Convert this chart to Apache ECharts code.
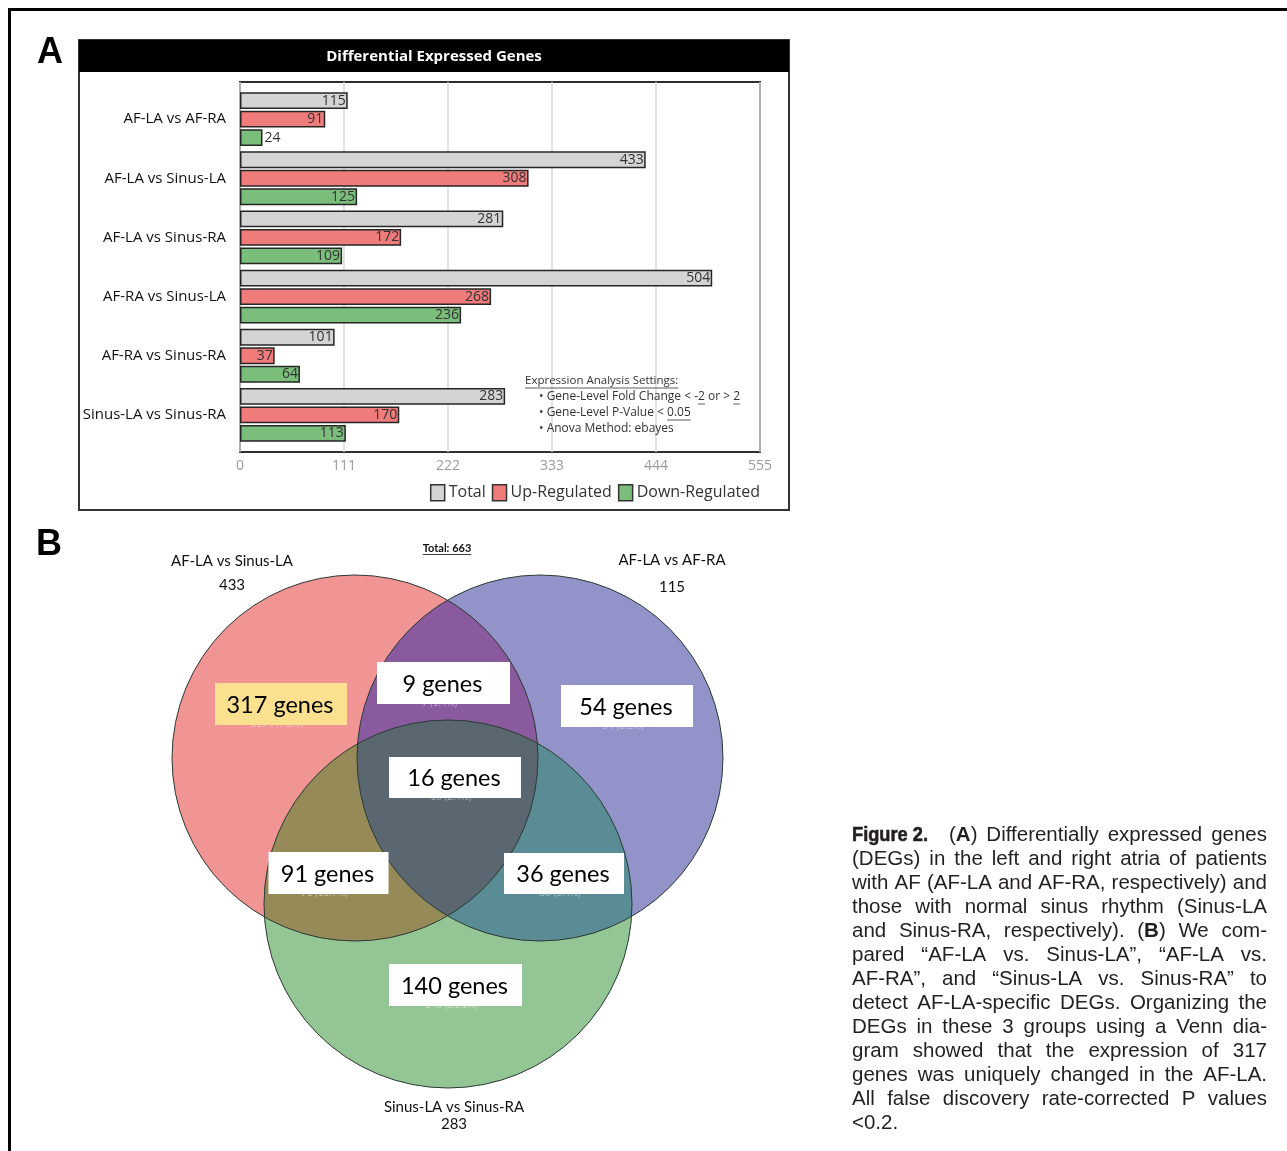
<!DOCTYPE html>
<html>
<head>
<meta charset="utf-8">
<title>Figure 2 – Differential Expressed Genes</title>
<script src="https://cdn.jsdelivr.net/npm/echarts@6/dist/echarts.min.js"></script>
<style>
  html, body { margin: 0; padding: 0; background: #fff; }
  #main { width: 1287px; height: 1151px; }
</style>
</head>
<body>
<div id="main"></div>
<script>
// ---------- Panel A data: DEG counts per comparison ----------
const comparisons = ['AF-LA vs AF-RA', 'AF-LA vs Sinus-LA', 'AF-LA vs Sinus-RA',
                     'AF-RA vs Sinus-LA', 'AF-RA vs Sinus-RA', 'Sinus-LA vs Sinus-RA'];
const totalDEGs     = [115, 433, 281, 504, 101, 283];
const upRegulated   = [91, 308, 172, 268, 37, 170];
const downRegulated = [24, 125, 109, 236, 64, 113];
const axisTicks     = [0, 111, 222, 333, 444, 555];
const seriesNames   = ['Total', 'Up-Regulated', 'Down-Regulated'];

// ---------- Panel B data: Venn diagram of three comparisons ----------
const vennSetNames  = ['AF-LA vs Sinus-LA', 'AF-LA vs AF-RA', 'Sinus-LA vs Sinus-RA'];
const vennSetTotals = [433, 115, 283];
const vennRegions   = ['A', 'B', 'C', 'AB', 'AC', 'BC', 'ABC'];
const vennCounts    = [317, 54, 140, 9, 91, 36, 16];
const vennTotal     = 663;

// ---------- Caption ----------
const captionLines = [
  '##Figure 2.## (**A**) Differentially expressed genes',
  '(DEGs) in the left and right atria of patients',
  'with AF (AF-LA and AF-RA, respectively) and',
  'those with normal sinus rhythm (Sinus-LA',
  'and Sinus-RA, respectively). (**B**) We com-',
  'pared “AF-LA vs. Sinus-LA”, “AF-LA vs.',
  'AF-RA”, and “Sinus-LA vs. Sinus-RA” to',
  'detect AF-LA-specific DEGs. Organizing the',
  'DEGs in these 3 groups using a Venn dia-',
  'gram showed that the expression of 317',
  'genes was uniquely changed in the AF-LA.',
  'All false discovery rate-corrected P values',
  '<0.2.'
];

// ======================================================================
const UI_FONT = "'Open Sans', 'Noto Sans', sans-serif";
const CAL_FONT = "Lato, 'Open Sans', sans-serif";
const HEL_FONT = "'Liberation Sans', Arial, sans-serif";

const mctx = document.createElement('canvas').getContext('2d');
function measure(str, size, family, weight) {
  mctx.font = (weight || 'normal') + ' ' + size + 'px ' + family;
  return mctx.measureText(str).width;
}

const graphics = [];

// outer frame
graphics.push({ type: 'line', silent: true, shape: { x1: 8, y1: 9.5, x2: 1287, y2: 9.5 },
  style: { stroke: '#000', lineWidth: 3 } });
graphics.push({ type: 'line', silent: true, shape: { x1: 9.5, y1: 8, x2: 9.5, y2: 1151 },
  style: { stroke: '#000', lineWidth: 3 } });

// panel letters
graphics.push({ type: 'text', x: 37, y: 53, style: { text: 'A', font: 'bold 36px ' + HEL_FONT,
  fill: '#000', verticalAlign: 'middle' } });
graphics.push({ type: 'text', x: 36, y: 545, style: { text: 'B', font: 'bold 36px ' + HEL_FONT,
  fill: '#000', verticalAlign: 'middle' } });

// panel A frame + title bar
graphics.push({ type: 'rect', silent: true, shape: { x: 79, y: 40, width: 710, height: 470 },
  style: { fill: 'none', stroke: '#333', lineWidth: 2 } });
graphics.push({ type: 'rect', silent: true, shape: { x: 79, y: 40, width: 710, height: 32 },
  style: { fill: '#000' } });
graphics.push({ type: 'text', x: 434, y: 57, style: { text: 'Differential Expressed Genes',
  font: 'bold 15px ' + UI_FONT, fill: '#fff', align: 'center', verticalAlign: 'middle' } });

// analysis settings note inside the plot
(function () {
  const fam = UI_FONT, col = '#333';
  const x0 = 525, xb = 539;
  const head = 'Expression Analysis Settings:';
  graphics.push({ type: 'text', z: 10, x: x0, y: 381, style: { text: head, fontSize: 11.5,
    fontFamily: fam, fill: col, verticalAlign: 'middle' } });
  graphics.push({ type: 'line', z: 10, silent: true,
    shape: { x1: x0, y1: 388, x2: x0 + measure(head, 11.5, fam), y2: 388 },
    style: { stroke: col, lineWidth: 0.8 } });
  const size = 12;
  const bullets = [
    { text: '• Gene-Level Fold Change < -2 or > 2', under: [['• Gene-Level Fold Change < -', '2'], ['• Gene-Level Fold Change < -2 or > ', '2']] },
    { text: '• Gene-Level P-Value < 0.05', under: [['• Gene-Level P-Value < ', '0.05']] },
    { text: '• Anova Method: ebayes', under: [] }
  ];
  bullets.forEach((b, i) => {
    const y = 397 + i * 16;
    graphics.push({ type: 'text', z: 10, x: xb, y: y, style: { text: b.text, fontSize: size,
      fontFamily: fam, fill: col, verticalAlign: 'middle' } });
    b.under.forEach(u => {
      const s = xb + measure(u[0], size, fam);
      const e = s + measure(u[1], size, fam);
      graphics.push({ type: 'line', z: 10, silent: true, shape: { x1: s, y1: y + 7, x2: e, y2: y + 7 },
        style: { stroke: col, lineWidth: 0.8 } });
    });
  });
})();

// ---------- Venn diagram (panel B) ----------
const vennLayout = [
  { x: 355, y: 758, r: 183 },   // A
  { x: 540, y: 758, r: 183 },   // B
  { x: 448, y: 904, r: 184 }    // C
];
const regionColors = { A: '#f09494', B: '#9294c9', C: '#94c594', AB: '#8a5a9e',
                       AC: '#968a58', BC: '#5a8c96', ABC: '#5a6670' };

function inside(c, p) {
  return (p[0] - c.x) * (p[0] - c.x) + (p[1] - c.y) * (p[1] - c.y) < c.r * c.r - 0.5;
}
function intersect(c1, c2) {
  const dx = c2.x - c1.x, dy = c2.y - c1.y, d = Math.hypot(dx, dy);
  const a = (d * d + c1.r * c1.r - c2.r * c2.r) / (2 * d);
  const h = Math.sqrt(Math.max(0, c1.r * c1.r - a * a));
  const px = c1.x + a * dx / d, py = c1.y + a * dy / d;
  return [[px - h * dy / d, py + h * dx / d], [px + h * dy / d, py - h * dx / d]];
}
function arcPoints(c, p1, p2, test) {
  const a1 = Math.atan2(p1[1] - c.y, p1[0] - c.x);
  const a2 = Math.atan2(p2[1] - c.y, p2[0] - c.x);
  let sweep = a2 - a1;
  while (sweep < 0) sweep += Math.PI * 2;
  const mid = a1 + sweep / 2;
  if (!test([c.x + c.r * Math.cos(mid), c.y + c.r * Math.sin(mid)])) sweep -= Math.PI * 2;
  const pts = [], n = 90;
  for (let i = 0; i <= n; i++) {
    const t = a1 + sweep * i / n;
    pts.push([c.x + c.r * Math.cos(t), c.y + c.r * Math.sin(t)]);
  }
  return pts;
}
(function () {
  const [A, B, C] = vennLayout;
  const circ = [A, B, C];
  ['A', 'B', 'C'].forEach((k, i) => {
    graphics.push({ type: 'circle', silent: true, shape: { cx: circ[i].x, cy: circ[i].y, r: circ[i].r },
      style: { fill: regionColors[k] } });
  });
  const pairs = [['AB', A, B, C], ['AC', A, C, B], ['BC', B, C, A]];
  const innerPt = {};
  pairs.forEach(([k, X, Y, Z]) => {
    const [q1, q2] = intersect(X, Y);
    innerPt[k] = inside(Z, q1) ? q1 : q2;
    const pts = arcPoints(X, q1, q2, p => inside(Y, p))
      .concat(arcPoints(Y, q2, q1, p => inside(X, p)));
    graphics.push({ type: 'polygon', silent: true, shape: { points: pts }, style: { fill: regionColors[k] } });
  });
  const tri = arcPoints(C, innerPt.BC, innerPt.AC, p => inside(A, p) && inside(B, p))
    .concat(arcPoints(A, innerPt.AC, innerPt.AB, p => inside(B, p) && inside(C, p)))
    .concat(arcPoints(B, innerPt.AB, innerPt.BC, p => inside(A, p) && inside(C, p)));
  graphics.push({ type: 'polygon', silent: true, shape: { points: tri }, style: { fill: regionColors.ABC } });
  circ.forEach(c => graphics.push({ type: 'circle', silent: true, shape: { cx: c.x, cy: c.y, r: c.r },
    style: { fill: 'none', stroke: '#2b3a33', lineWidth: 1 } }));
})();

// region label boxes
const regionBoxes = {
  A:   { cx: 281,   cy: 704,   w: 132, h: 42, fill: '#fae08f' },
  AB:  { cx: 443.5, cy: 683,   w: 133, h: 42, fill: '#fff' },
  B:   { cx: 627,   cy: 706,   w: 132, h: 42, fill: '#fff' },
  ABC: { cx: 455,   cy: 777.5, w: 132, h: 41, fill: '#fff' },
  AC:  { cx: 328.5, cy: 873,   w: 120, h: 42, fill: '#fff' },
  BC:  { cx: 564,   cy: 873.5, w: 120, h: 41, fill: '#fff' },
  C:   { cx: 455.5, cy: 985,   w: 133, h: 42, fill: '#fff' }
};
vennRegions.forEach((k, i) => {
  const b = regionBoxes[k];
  const pct = (vennCounts[i] / vennTotal * 100).toFixed(1);
  // faint count/percent tag mostly tucked under the box
  graphics.push({ type: 'text', silent: true, x: b.cx - 4, y: b.cy + b.h / 2 - 1,
    style: { text: vennCounts[i] + ' (' + pct + '%)', fontSize: 10, fontFamily: CAL_FONT,
      fill: 'rgba(255,255,255,0.45)', align: 'center', verticalAlign: 'middle' } });
});
vennRegions.forEach((k, i) => {
  const b = regionBoxes[k];
  graphics.push({ type: 'rect', silent: true,
    shape: { x: b.cx - b.w / 2, y: b.cy - b.h / 2, width: b.w, height: b.h }, style: { fill: b.fill } });
  graphics.push({ type: 'text', silent: true, x: b.cx - 1, y: b.cy + 1,
    style: { text: vennCounts[i] + ' genes', fontSize: 23.5, fontFamily: CAL_FONT, fill: '#000',
      align: 'center', verticalAlign: 'middle' } });
});

// set names and totals
const setLabelPos = [
  { x: 232, y1: 561, y2: 585 },
  { x: 672, y1: 560, y2: 587 },
  { x: 454, y1: 1107, y2: 1124 }
];
vennSetNames.forEach((name, i) => {
  const p = setLabelPos[i];
  graphics.push({ type: 'text', x: p.x, y: p.y1, style: { text: name, fontSize: 15, fontFamily: CAL_FONT,
    fill: '#111', align: 'center', verticalAlign: 'middle' } });
  graphics.push({ type: 'text', x: p.x, y: p.y2, style: { text: String(vennSetTotals[i]), fontSize: 15,
    fontFamily: CAL_FONT, fill: '#111', align: 'center', verticalAlign: 'middle' } });
});
(function () {
  const t = 'Total: ' + vennTotal;
  const w = measure(t, 11, CAL_FONT, 'bold');
  graphics.push({ type: 'text', x: 447, y: 548, style: { text: t, fontSize: 11, fontWeight: 'bold',
    fontFamily: CAL_FONT, fill: '#111', align: 'center', verticalAlign: 'middle' } });
  graphics.push({ type: 'line', silent: true, shape: { x1: 447 - w / 2, y1: 554.5, x2: 447 + w / 2, y2: 554.5 },
    style: { stroke: '#111', lineWidth: 0.8 } });
})();

// ---------- justified caption ----------
(function () {
  const X0 = 852, WIDTH = 415, Y0 = 835, LH = 24, SIZE = 20.5, COLOR = '#231f20';
  const FIG_SIZE = 21, FIG_W = 76, FIG_GAP = 21;
  captionLines.forEach((line, li) => {
    let fig = null, rest = line;
    if (rest.startsWith('##')) {
      const end = rest.indexOf('##', 2);
      fig = rest.slice(2, end);
      rest = rest.slice(end + 2).trim();
    }
    const tokens = rest.split(' ').filter(Boolean).map(tok =>
      tok.split('**').map((s, i) => ({ t: s, bold: i % 2 === 1 })).filter(s => s.t.length));
    const segW = s => measure(s.t, SIZE, HEL_FONT, s.bold ? 'bold' : 'normal');
    const tokW = tokens.map(tk => tk.reduce((a, s) => a + segW(s), 0));
    let x = X0;
    let used = tokW.reduce((a, b) => a + b, 0);
    const y = Y0 + li * LH;
    if (fig) {
      // condensed bold figure label
      const natural = measure(fig, FIG_SIZE, HEL_FONT, 'bold');
      graphics.push({ type: 'text', x: x, y: y, scaleX: FIG_W / natural, originX: 0,
        style: { text: fig, fontSize: FIG_SIZE, fontWeight: 'bold', fontFamily: HEL_FONT, fill: COLOR,
          verticalAlign: 'middle', stroke: COLOR, lineWidth: 0.6 } });
      x += FIG_W + FIG_GAP;
      used += FIG_W + FIG_GAP;
    }
    const last = li === captionLines.length - 1;
    const gap = last || tokens.length < 2 ? measure(' ', SIZE, HEL_FONT)
      : (WIDTH - used) / (tokens.length - 1);
    tokens.forEach((tk, ti) => {
      let sx = x;
      tk.forEach(s => {
        graphics.push({ type: 'text', x: sx, y: y, style: { text: s.t, fontSize: SIZE,
          fontWeight: s.bold ? 'bold' : 'normal', fontFamily: HEL_FONT, fill: COLOR, verticalAlign: 'middle' } });
        sx += segW(s);
      });
      x += tokW[ti] + gap;
    });
  });
})();

// ---------- chart ----------
const chart = echarts.init(document.getElementById('main'), null, { renderer: 'canvas' });
const barColors = ['#d4d4d4', '#ef7b7b', '#7bbd7b'];
const barData = [totalDEGs, upRegulated, downRegulated];
const xScale = {
  min: axisTicks[0], max: axisTicks[axisTicks.length - 1], interval: axisTicks[1] - axisTicks[0]
};

const option = {
  animation: false,
  backgroundColor: '#fff',
  textStyle: { fontFamily: UI_FONT },
  grid: [
    // plot frame with the value scale and vertical guides
    { left: 240, top: 82, width: 520, height: 370,
      show: true, backgroundColor: '#fff', borderColor: '#2e2e2e', borderWidth: 2 },
    // bar area, inset slightly from the frame top and bottom
    { left: 240, top: 89.5, width: 520, height: 355, show: false }
  ],
  legend: {
    data: seriesNames, right: 527, top: 484, padding: 0, icon: 'rect',
    itemWidth: 14, itemHeight: 16, itemGap: 6,
    itemStyle: { borderColor: '#333', borderWidth: 1.5 },
    textStyle: { fontSize: 16, color: '#333', fontFamily: UI_FONT, padding: [0, 0, 0, -1] }
  },
  xAxis: [
    Object.assign({ type: 'value', gridIndex: 0,
      axisLine: { show: false }, axisTick: { show: false },
      axisLabel: { color: '#9a9a9a', fontSize: 14, margin: 7, fontFamily: UI_FONT },
      splitLine: { show: true, lineStyle: { color: '#d8d8d8', width: 1.5 } } }, xScale),
    Object.assign({ type: 'value', gridIndex: 1, show: false, splitLine: { show: false } }, xScale)
  ],
  yAxis: [
    { type: 'value', gridIndex: 0, show: false, splitLine: { show: false } },
    { type: 'category', gridIndex: 1, data: comparisons, inverse: true,
      axisLine: { show: false }, axisTick: { show: false },
      axisLabel: { color: '#111', fontSize: 15, margin: 14, fontFamily: UI_FONT },
      splitLine: { show: false } }
  ],
  series: seriesNames.map((name, si) => ({
    name: name, type: 'bar', xAxisIndex: 1, yAxisIndex: 1,
    barGap: '10%', barCategoryGap: '9%',
    itemStyle: { color: barColors[si], borderColor: '#262626', borderWidth: 1.5 },
    label: { show: true, position: 'insideRight', distance: 2, color: '#333', fontSize: 14,
      fontFamily: UI_FONT, formatter: '{c}' },
    data: barData[si].map(v => v < 30 ? { value: v, label: { position: 'right', distance: 2 } } : v)
  })),
  graphic: { elements: graphics }
};
chart.setOption(option);
</script>
</body>
</html>
